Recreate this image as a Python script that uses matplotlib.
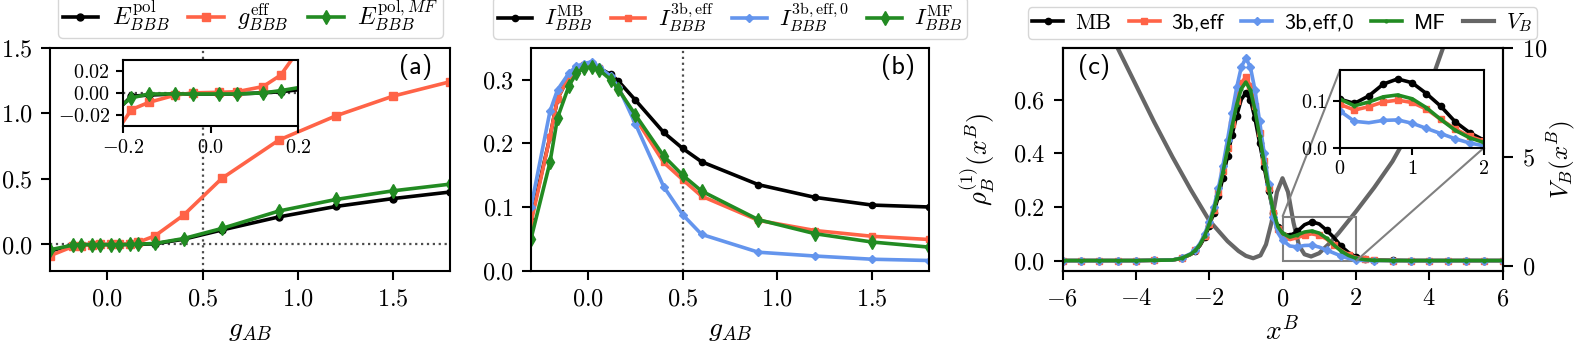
import matplotlib
matplotlib.use("Agg")
import matplotlib.pyplot as plt
from matplotlib.ticker import FuncFormatter
from mpl_toolkits.axes_grid1.inset_locator import mark_inset

plt.rcParams['font.family'] = ['serif']
plt.rcParams['font.serif'] = ['cmr10']
plt.rcParams['mathtext.fontset'] = 'cm'
plt.rcParams['axes.unicode_minus'] = True

# colours
c_mb = 'black'
c_eff = 'tomato'
c_eff0 = 'cornflowerblue'
c_mf = 'forestgreen'
c_pot = '0.4'

# ---- panel (a): energies vs g_AB
g_a = [-0.3, -0.18, -0.14, -0.08, -0.04, 0.02, 0.06, 0.12, 0.16, 0.25, 0.4, 0.6, 0.9, 1.2, 1.5, 1.8]
E_pol = [-0.05, -0.003, -0.002, -0.001, -0.001, -0.001, -0.001, 0.0, 0.001, 0.005, 0.04, 0.11, 0.21, 0.29, 0.35, 0.40]
g_eff = [-0.085, -0.015, -0.0085, -0.002, 0.0, 0.0005, 0.001, 0.0057, 0.016, 0.066, 0.224, 0.503, 0.796, 0.981, 1.131, 1.241]
E_pol_mf = [-0.04, -0.0045, -0.001, -0.001, -0.001, -0.001, -0.001, 0.0, 0.002, 0.008, 0.045, 0.122, 0.255, 0.343, 0.409, 0.46]

# ---- panel (b): I_BBB vs g_AB
g_b = [-0.3, -0.2, -0.16, -0.1, -0.06, -0.02, 0.02, 0.06, 0.12, 0.16, 0.25, 0.4, 0.5, 0.6, 0.9, 1.2, 1.5, 1.8]
I_mb = [0.08, 0.21, 0.27, 0.305, 0.318, 0.322, 0.322, 0.318, 0.308, 0.298, 0.268, 0.217, 0.192, 0.171, 0.135, 0.115, 0.103, 0.100]
I_eff = [0.075, 0.21, 0.27, 0.305, 0.318, 0.323, 0.325, 0.318, 0.302, 0.287, 0.24, 0.17, 0.143, 0.117, 0.079, 0.063, 0.054, 0.049]
I_eff0 = [0.10, 0.25, 0.284, 0.31, 0.321, 0.325, 0.328, 0.32, 0.305, 0.289, 0.231, 0.132, 0.088, 0.057, 0.029, 0.023, 0.018, 0.016]
I_mf = [0.05, 0.17, 0.24, 0.29, 0.31, 0.318, 0.32, 0.315, 0.30, 0.285, 0.245, 0.18, 0.15, 0.125, 0.08, 0.058, 0.045, 0.037]

# ---- panel (c): densities and trap potential
x_c = [-6, -5.5, -5, -4.5, -4, -3.5, -3, -2.75, -2.5, -2.375, -2.25, -2.125, -2, -1.875, -1.75,
       -1.625, -1.5, -1.375, -1.25, -1.125, -1, -0.875, -0.75, -0.625, -0.5, -0.375, -0.25, -0.125,
       0, 0.2, 0.4, 0.6, 0.8, 1.0, 1.2, 1.4, 1.6, 1.8, 2.0, 2.25, 2.5, 3, 3.5, 4, 4.5, 5, 5.5, 6]
rho_mb = [0.002, 0.002, 0.002, 0.002, 0.002, 0.003, 0.004, 0.01, 0.025, 0.038, 0.058, 0.088, 0.13, 0.18, 0.24,
          0.31, 0.39, 0.47, 0.54, 0.60, 0.625, 0.60, 0.53, 0.44, 0.35, 0.26, 0.18, 0.125,
          0.103, 0.094, 0.11, 0.135, 0.146, 0.138, 0.115, 0.088, 0.055, 0.032, 0.016, 0.007, 0.004,
          0.003, 0.002, 0.002, 0.002, 0.002, 0.002, 0.002]
rho_mf = [0.002, 0.002, 0.002, 0.002, 0.002, 0.003, 0.004, 0.011, 0.026, 0.04, 0.062, 0.093, 0.137, 0.19, 0.255,
          0.33, 0.415, 0.50, 0.58, 0.64, 0.665, 0.635, 0.56, 0.465, 0.365, 0.27, 0.185, 0.128,
          0.103, 0.089, 0.097, 0.108, 0.112, 0.104, 0.085, 0.06, 0.037, 0.021, 0.011, 0.005, 0.003,
          0.002, 0.002, 0.002, 0.002, 0.002, 0.002, 0.002]
rho_eff = [0.002, 0.002, 0.002, 0.002, 0.002, 0.003, 0.004, 0.011, 0.026, 0.04, 0.062, 0.094, 0.138, 0.19, 0.258,
           0.335, 0.42, 0.51, 0.595, 0.66, 0.685, 0.65, 0.575, 0.475, 0.37, 0.27, 0.18, 0.12,
           0.092, 0.080, 0.087, 0.097, 0.101, 0.096, 0.082, 0.06, 0.04, 0.024, 0.014, 0.006, 0.003,
           0.002, 0.002, 0.002, 0.002, 0.002, 0.002, 0.002]
rho_eff0 = [0.002, 0.002, 0.002, 0.002, 0.002, 0.003, 0.004, 0.012, 0.028, 0.043, 0.066, 0.10, 0.145, 0.20, 0.27,
            0.355, 0.45, 0.55, 0.645, 0.72, 0.755, 0.72, 0.635, 0.52, 0.40, 0.285, 0.165, 0.105,
            0.078, 0.056, 0.053, 0.058, 0.059, 0.052, 0.041, 0.03, 0.019, 0.01, 0.004, 0.002, 0.002,
            0.002, 0.002, 0.002, 0.002, 0.002, 0.002, 0.002]

x_pot = [-4.65, -4.5, -4.0, -3.5, -3.0, -2.5, -2.0, -1.5, -1.2, -1.0, -0.8, -0.6, -0.45, -0.3, -0.15, 0.0,
         0.15, 0.3, 0.45, 0.6, 0.78, 1.0, 1.25, 1.53, 2.0, 2.5, 3.0, 3.5, 4.0, 4.38, 4.5]
V_B = [10.6, 10.0, 8.3, 6.6, 5.0, 3.5, 2.1, 1.15, 0.7, 0.48, 0.37, 0.5, 1.0, 2.0, 3.4, 4.03,
       3.4, 2.0, 0.95, 0.55, 0.45, 0.6, 1.0, 1.52, 2.5, 3.6, 4.8, 6.3, 8.2, 10.0, 10.5]

W, H = 1578, 345
fig = plt.figure(figsize=(W / 100, H / 100), dpi=100)
bot = (H - 270.7) / H
hgt = 223 / H
ax_a = fig.add_axes([50.3 / W, bot, 400 / W, hgt])
ax_b = fig.add_axes([531 / W, bot, 398 / W, hgt])
ax_c = fig.add_axes([1062.5 / W, bot, 440 / W, hgt])

lw = 2.6
fs = 17.5
sans = 'cmss10'
leg_kw = dict(loc='lower center', bbox_to_anchor=(0.5, 1.0), borderaxespad=0.4,
              handlelength=1.5, handletextpad=0.55, columnspacing=0.8, borderpad=0.2)


def fmt(spec):
    return FuncFormatter(lambda v, p: r'$\mathrm{' + (spec % v) + '}$')


def style(ax, size=fs, pad=6.0, length=6.5):
    for s in ax.spines.values():
        s.set_linewidth(1.5)
    ax.tick_params(labelsize=size, width=1.5, length=length, pad=pad)


def fit_legend(ax, target_w, sans_idx=(), **kw):
    # scale the legend font so the frame is as wide as in the reference
    size = 16.0
    for _ in range(3):
        leg = ax.legend(fontsize=size, **kw)
        for i in sans_idx:
            leg.get_texts()[i].set_fontfamily(sans)
        fig.canvas.draw()
        size *= target_w / leg.get_window_extent().width
    leg = ax.legend(fontsize=size, **kw)
    for i in sans_idx:
        leg.get_texts()[i].set_fontfamily(sans)
    return leg


# (a)
ax_a.plot(g_a, E_pol, color=c_mb, lw=lw, marker='o', ms=5, label=r'$E_{BBB}^{\mathrm{pol}}$')
ax_a.plot(g_a, g_eff, color=c_eff, lw=lw, marker='s', ms=5.5, label=r'$g_{BBB}^{\mathrm{eff}}$')
ax_a.plot(g_a, E_pol_mf, color=c_mf, lw=lw, marker='d', ms=7.5, label=r'$E_{BBB}^{\mathrm{pol},MF}$')
ax_a.axvline(0.5, color='0.3', ls=':', lw=1.6, zorder=0)
ax_a.axhline(0.0, color='0.3', ls=':', lw=1.6, zorder=0)
ax_a.set_xlim(-0.3, 1.8)
ax_a.set_ylim(-0.2, 1.5)
ax_a.set_xticks([0.0, 0.5, 1.0, 1.5])
ax_a.set_yticks([0.0, 0.5, 1.0, 1.5])
ax_a.xaxis.set_major_formatter(fmt('%.1f'))
ax_a.yaxis.set_major_formatter(fmt('%.1f'))
ax_a.set_xlabel(r'$g_{AB}$', fontsize=20, labelpad=5)
ax_a.text(0.955, 0.915, '(a)', transform=ax_a.transAxes, ha='right', va='center',
          fontsize=19, family=sans)
style(ax_a)
fit_legend(ax_a, 385, ncol=3, **leg_kw)

ins_a = ax_a.inset_axes([0.181, 0.648, 0.439, 0.299])
ins_a.plot(g_a, E_pol, color=c_mb, lw=lw, marker='o', ms=5)
ins_a.plot(g_a, g_eff, color=c_eff, lw=lw, marker='s', ms=5.5)
ins_a.plot(g_a, E_pol_mf, color=c_mf, lw=lw, marker='d', ms=7.5)
ins_a.axhline(0.0, color='0.3', ls=':', lw=1.6, zorder=0)
ins_a.set_xlim(-0.2, 0.2)
ins_a.set_ylim(-0.03, 0.03)
ins_a.set_xticks([-0.2, 0.0, 0.2])
ins_a.set_yticks([-0.02, 0.0, 0.02])
ins_a.xaxis.set_major_formatter(fmt('%.1f'))
ins_a.yaxis.set_major_formatter(fmt('%.2f'))
style(ins_a, 14.5, pad=4, length=5)

# (b)
ax_b.plot(g_b, I_mb, color=c_mb, lw=lw, marker='o', ms=4.5, label=r'$I_{BBB}^{\mathrm{MB}}$')
ax_b.plot(g_b, I_eff, color=c_eff, lw=lw, marker='s', ms=5, label=r'$I_{BBB}^{\mathrm{3b,eff}}$')
ax_b.plot(g_b, I_eff0, color=c_eff0, lw=lw, marker='D', ms=4.5, label=r'$I_{BBB}^{\mathrm{3b,eff},0}$')
ax_b.plot(g_b, I_mf, color=c_mf, lw=lw, marker='d', ms=7, label=r'$I_{BBB}^{\mathrm{MF}}$')
ax_b.axvline(0.5, color='0.3', ls=':', lw=1.6, zorder=0)
ax_b.set_xlim(-0.3, 1.8)
ax_b.set_ylim(0.0, 0.35)
ax_b.set_xticks([0.0, 0.5, 1.0, 1.5])
ax_b.set_yticks([0.0, 0.1, 0.2, 0.3])
ax_b.xaxis.set_major_formatter(fmt('%.1f'))
ax_b.yaxis.set_major_formatter(fmt('%.1f'))
ax_b.set_xlabel(r'$g_{AB}$', fontsize=20, labelpad=5)
ax_b.text(0.965, 0.915, '(b)', transform=ax_b.transAxes, ha='right', va='center',
          fontsize=19, family=sans)
style(ax_b)
fit_legend(ax_b, 474, ncol=4, **leg_kw)

# (c)
ax_v = ax_c.twinx()
l_pot, = ax_v.plot(x_pot, V_B, color=c_pot, lw=3, label=r'$V_B$')
ax_v.set_ylim(-0.2, 10)
ax_v.set_yticks([0, 5, 10])
ax_v.yaxis.set_major_formatter(fmt('%d'))
ax_v.set_ylabel(r'$V_B(x^B)$', fontsize=18)
ax_v.yaxis.set_label_coords((1545 - 1062.5) / 440, 0.5)
style(ax_v, pad=6.5, length=7.5)
ax_c.set_zorder(ax_v.get_zorder() + 1)
ax_c.patch.set_visible(False)

dens = [(rho_mb, c_mb, 'o', 4.5, 'MB'), (rho_eff, c_eff, 's', 5, '3b,eff'),
        (rho_eff0, c_eff0, 'D', 4.5, '3b,eff,0'), (rho_mf, c_mf, '.', 4, 'MF')]
handles = []
for y, col, mk, ms, lab in dens:
    h, = ax_c.plot(x_c, y, color=col, lw=lw, marker=mk, ms=ms, markevery=0.034, label=lab)
    handles.append(h)
handles.append(l_pot)
ax_c.set_xlim(-6, 6)
ax_c.set_xticks([-6, -4, -2, 0, 2, 4, 6])
ax_c.set_yticks([0.0, 0.2, 0.4, 0.6])
ax_c.xaxis.set_major_formatter(fmt('%d'))
ax_c.yaxis.set_major_formatter(fmt('%.1f'))
ax_c.set_xlabel(r'$x^B$', fontsize=20, labelpad=5)
ax_c.set_ylabel(r'$\rho_B^{(1)}(x^B)$', fontsize=19)
ax_c.yaxis.set_label_coords((997 - 1062.5) / 440, 0.5)
ax_c.text(0.035, 0.915, '(c)', transform=ax_c.transAxes, ha='left', va='center',
          fontsize=19, family=sans)
style(ax_c)
c_kw = dict(leg_kw, handlelength=1.4, handletextpad=0.54, columnspacing=0.77)
fit_legend(ax_c, 509, sans_idx=(1, 2, 3), handles=handles, ncol=5, **c_kw)

ins_c = fig.add_axes([1340 / W, (H - 147.7) / H, 144 / W, 77.7 / H])
ins_c.set_zorder(ax_c.get_zorder() + 1)
for y, col, mk, ms, lab in dens:
    ins_c.plot(x_c, y, color=col, lw=lw, marker=mk, ms=ms, markevery=0.09)
ins_c.set_xlim(0, 2)
ins_c.set_ylim(0, 0.165)
ins_c.set_xticks([0, 1, 2])
ins_c.set_yticks([0.0, 0.1])
ins_c.xaxis.set_major_formatter(fmt('%d'))
ins_c.yaxis.set_major_formatter(fmt('%.1f'))
style(ins_c, 14.5, pad=4, length=5)
mark_inset(ax_c, ins_c, loc1=2, loc2=4, fc='none', ec='0.5', lw=1.5)

fig.savefig('out.png', dpi=100)
